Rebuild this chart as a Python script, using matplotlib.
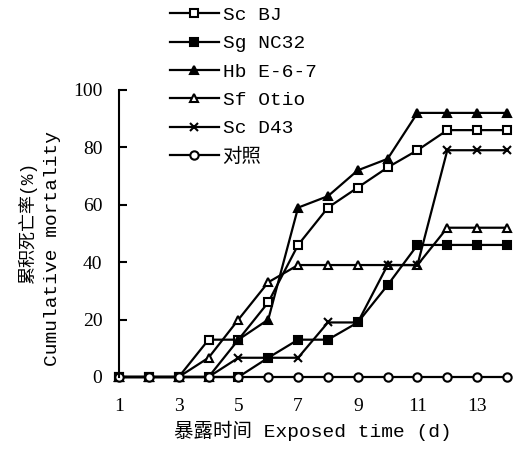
import matplotlib
matplotlib.use('Agg')
import matplotlib.pyplot as plt

plt.rcParams['font.family'] = ['Liberation Mono', 'Noto Sans CJK SC']

days = list(range(1, 15))
sc_bj = [0, 0, 0, 13, 13, 26, 46, 59, 66, 73, 79, 86, 86, 86]
sg_nc32 = [0, 0, 0, 0, 0, 6.7, 13, 13, 19, 32, 46, 46, 46, 46]
hb_e67 = [0, 0, 0, 0, 13, 20, 59, 63, 72, 76, 92, 92, 92, 92]
sf_otio = [0, 0, 0, 6.7, 20, 33, 39, 39, 39, 39, 39, 52, 52, 52]
sc_d43 = [0, 0, 0, 0, 6.7, 6.7, 6.7, 19, 19, 39, 39, 79, 79, 79]
control = [0] * 14

labels = ['Sc BJ', 'Sg NC32', 'Hb E-6-7', 'Sf Otio', 'Sc D43', '对照']
series = [sc_bj, sg_nc32, hb_e67, sf_otio, sc_d43, control]
markers = ['s', 's', '^', '^', 'x', 'o']
fills = ['white', 'black', 'black', 'white', 'black', 'white']

fig = plt.figure(figsize=(5.25, 4.66), dpi=100)
ax = fig.add_axes([0.2267, 0.191, 0.739, 0.616])

for vals, lab, m, fc in zip(series, labels, markers, fills):
    ax.plot(days, vals, color='black', linewidth=1.6, marker=m,
            markersize=6, markerfacecolor=fc,
            markeredgecolor='black', markeredgewidth=1.5,
            label=lab, clip_on=False)

ax.set_xlim(1, 14)
ax.set_ylim(0, 100)
ax.set_xticks([1, 3, 5, 7, 9, 11, 13])
ax.set_yticks([0, 20, 40, 60, 80, 100])
for side in ['top', 'right', 'bottom']:
    ax.spines[side].set_visible(False)
ax.spines['left'].set_linewidth(1.5)
ax.tick_params(axis='y', direction='in', length=6, width=1.5, pad=12)
ax.tick_params(axis='x', length=0, pad=15)
for t in ax.get_xticklabels() + ax.get_yticklabels():
    t.set_fontfamily('Liberation Serif')
    t.set_fontsize(14)

# two-line y label, placed separately as in the original
fig.text(28 / 525, 1 - 223 / 466, '累积死亡率(%)', rotation=90,
         fontsize=13, ha='center', va='center')
fig.text(53 / 525, 1 - 248 / 466, 'Cumulative mortality', rotation=90,
         fontsize=14, ha='center', va='center')
ax.set_xlabel('暴露时间 Exposed time (d)', fontsize=14, labelpad=4)

fig.legend(loc='upper left', bbox_to_anchor=(0.324, 0.986), frameon=False,
           fontsize=14, handlelength=2.5, handletextpad=0.2,
           labelspacing=0.55, borderpad=0, borderaxespad=0)

plt.savefig('out.png', dpi=100)
